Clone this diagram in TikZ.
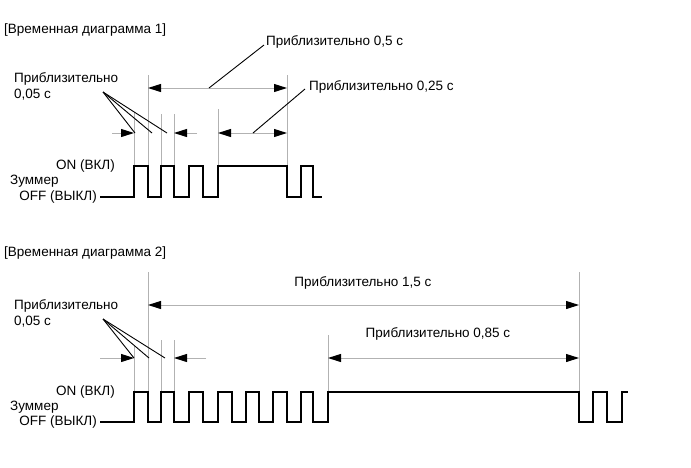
\documentclass[tikz,border=0pt]{standalone}
\usepackage{fontspec}
\setmainfont{Liberation Sans}
\usetikzlibrary{arrows.meta}

\begin{document}
\begin{tikzpicture}[x=1pt,y=-1pt,
    sig/.style={line width=2.8pt,line join=miter},
    guide/.style={gray!60,line width=1pt},
    dim/.style={gray!60,line width=1pt,{Triangle[length=13pt,width=8pt,black]}-{Triangle[length=13pt,width=8pt,black]}},
    dimin/.style={gray!60,line width=1pt,-{Triangle[length=13pt,width=8pt,black]}},
    leader/.style={black,line width=0.9pt},
    lbl/.style={inner sep=0pt,font=\fontsize{13.5}{16}\selectfont}]
    \useasboundingbox (0,0) rectangle (691,467);

    % diagram 1
    \node[lbl,anchor=west] (title1) at (4,30) {[Временная диаграмма 1]};
    \node[lbl,anchor=east] (on1) at (115,166) {ON (ВКЛ)};
    \node[lbl,anchor=west] (buz1) at (10,181) {Зуммер};
    \node[lbl,anchor=east] (off1) at (97,197) {OFF (ВЫКЛ)};
    \node[lbl,anchor=west,align=left] (short1) at (14,86) {Приблизительно\\0,05 с};
    \node[lbl,anchor=west] (half1) at (266,42) {Приблизительно 0,5 с};
    \node[lbl,anchor=west] (quart1) at (309,87) {Приблизительно 0,25 с};

    \foreach \x/\top in {134/112, 148/75, 161/114, 174/114, 218/109, 287/75}
        \draw[guide] (\x,\top) -- (\x,166);
    \draw[dimin] (112,133) -- (134,133);
    \draw[dimin] (197,133) -- (174,133);
    \draw[dim] (218,133) -- (287,133);
    \draw[dim] (148,88) -- (287,88);

    \coordinate (p1) at (103,92);
    \foreach \x in {135,152,167}
        \draw[leader] (p1) -- (\x,133);
    \draw[leader] (209,88) -- ([xshift=-2pt,yshift=-3pt]half1.west);
    \draw[leader] (253,133) -- ([xshift=-4pt,yshift=-2pt]quart1.west);

    \draw[sig] ([xshift=3pt]off1.east) -| (134,166) -| (148,197) -| (161,166) -| (174,197)
        -| (189,166) -| (203,197) -| (218,166) -| (287,197) -| (301,166)
        -| (313,197) -- (322,197);

    % diagram 2
    \node[lbl,anchor=west] (title2) at (4,253) {[Временная диаграмма 2]};
    \node[lbl,anchor=east] (on2) at (115,392) {ON (ВКЛ)};
    \node[lbl,anchor=west] (buz2) at (10,407) {Зуммер};
    \node[lbl,anchor=east] (off2) at (97,422) {OFF (ВЫКЛ)};
    \node[lbl,anchor=west,align=left] (short2) at (14,313) {Приблизительно\\0,05 с};
    \node[lbl] (long2) at (363,283) {Приблизительно 1,5 с};
    \node[lbl] (mid2) at (438,334) {Приблизительно 0,85 с};

    \foreach \x/\top in {134/345, 148/272, 161/340, 174/340, 328/335, 579/272}
        \draw[guide] (\x,\top) -- (\x,392);
    \draw[dimin] (100,358) -- (134,358);
    \draw[dimin] (206,358) -- (174,358);
    \draw[dim] (328,358) -- (579,358);
    \draw[dim] (148,305) -- (579,305);

    \coordinate (p2) at (103,319);
    \foreach \x in {134,149,165}
        \draw[leader] (p2) -- (\x,358);

    \draw[sig] ([xshift=3pt]off2.east) -| (134,392) -| (148,422) -| (161,392) -| (174,422)
        -| (189,392) -| (203,422) -| (218,392) -| (232,422) -| (246,392)
        -| (259,422) -| (273,392) -| (287,422) -| (301,392) -| (313,422)
        -| (328,392) -| (579,422) -| (593,392) -| (607,422) -| (622,392)
        -- (628,392);
\end{tikzpicture}
\end{document}
